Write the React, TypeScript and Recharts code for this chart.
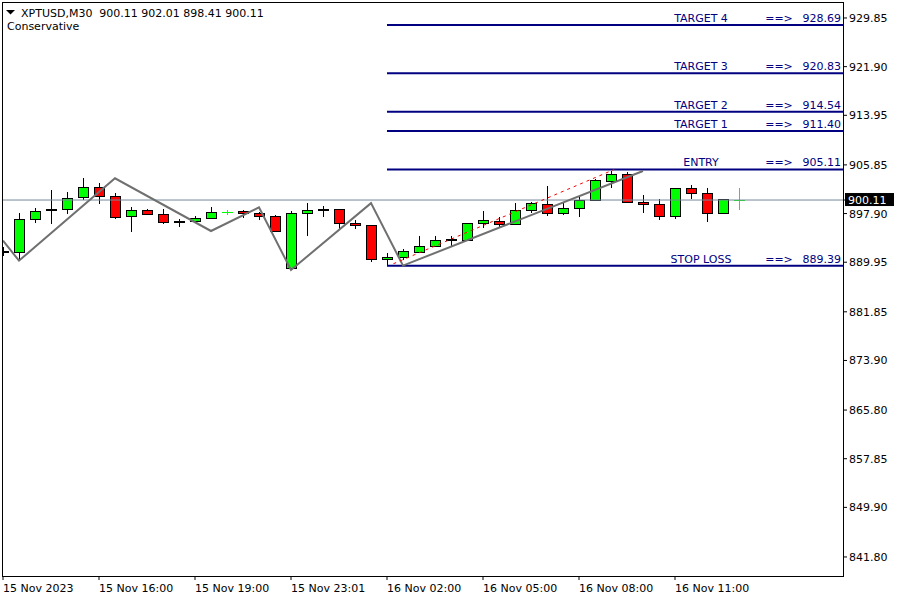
import React from 'react';
import { ComposedChart, XAxis, YAxis, Bar, Line, Scatter } from 'recharts';

// ---- data (XPTUSD, M30) ----
const opens = [891.6, 891.62, 897.0, 898.48, 898.6, 900.56, 902.2, 900.77, 897.45, 898.43, 897.83, 896.47, 896.64, 897.13, 898.11, 898.27, 897.94, 897.45, 888.96, 897.94, 898.47, 898.6, 896.31, 895.98, 890.43, 890.76, 891.57, 892.55, 893.62, 893.53, 896.31, 896.64, 896.2, 898.43, 899.43, 898.05, 898.76, 900.12, 903.27, 904.31, 899.74, 899.41, 897.5, 902.03, 901.21, 897.94, 900.11];
const highs = [892.4, 898.04, 898.76, 901.75, 901.47, 903.66, 902.84, 901.21, 898.92, 898.6, 898.6, 897.01, 897.5, 899.02, 898.48, 898.48, 898.15, 897.67, 898.37, 899.6, 899.14, 898.7, 896.85, 896.0, 891.41, 892.07, 894.24, 894.24, 894.24, 896.31, 898.32, 897.39, 899.6, 899.76, 902.4, 899.6, 900.77, 903.5, 904.9, 904.69, 900.93, 900.23, 902.1, 902.57, 902.03, 900.23, 902.01];
const lows = [890.9, 890.2, 896.41, 896.15, 897.78, 900.12, 899.41, 896.97, 894.94, 897.61, 896.2, 895.65, 896.55, 896.97, 897.67, 897.13, 896.85, 894.89, 888.68, 894.29, 897.39, 895.33, 895.43, 889.99, 889.5, 890.32, 891.5, 892.39, 892.6, 893.42, 895.49, 895.76, 896.2, 897.94, 897.5, 897.67, 897.39, 899.9, 902.03, 899.6, 897.94, 896.85, 896.97, 900.23, 896.57, 897.78, 898.41];
const closes = [891.65, 897.0, 898.27, 898.52, 900.39, 902.2, 900.77, 897.29, 898.43, 897.78, 896.47, 896.44, 897.13, 898.11, 898.11, 897.94, 897.5, 895.0, 897.94, 898.43, 898.5, 896.31, 895.98, 890.43, 890.76, 891.74, 892.55, 893.53, 893.66, 896.31, 896.8, 896.15, 898.43, 899.6, 897.94, 898.81, 900.12, 903.38, 904.31, 899.74, 899.41, 897.5, 902.03, 901.21, 897.94, 900.23, 900.11];

const zigzagIdx = [0, 1, 7, 13, 16, 18, 23, 25, 40];
const zigzagVal = [893.47, 890.2, 903.66, 895.05, 898.92, 888.68, 899.6, 889.4, 904.85];

const signalIdx = [24.4, 38.2];
const signalVal = [889.7, 905.1];

const levelNames = ['TARGET 4', 'TARGET 3', 'TARGET 2', 'TARGET 1', 'ENTRY', 'STOP LOSS'];
const levelValues = [928.69, 920.83, 914.54, 911.4, 905.11, 889.39];
const levelStartIdx = 24;

const lastPrice = 900.11;
const priceTicks = [929.85, 921.9, 913.95, 905.85, 897.9, 889.95, 881.85, 873.9, 865.8, 857.85, 849.9, 841.8];
const timeTickIdx = [0, 6, 12, 18, 24, 30, 36, 42];
const timeTickLabels = ['15 Nov 2023', '15 Nov 16:00', '15 Nov 19:00', '15 Nov 23:01', '16 Nov 02:00', '16 Nov 05:00', '16 Nov 08:00', '16 Nov 11:00'];

const headerText = 'XPTUSD,M30  900.11 902.01 898.41 900.11';
const indicatorName = 'Conservative';

const X_MIN = -0.0625;
const X_MAX = 52.5;
const Y_MIN = 838.69;
const Y_MAX = 932.46;

const FONT = '"DejaVu Sans", Verdana, sans-serif';
const NAVY = '#000080';

const data = opens.map((o, i) => {
  const zi = zigzagIdx.indexOf(i);
  return {
    i,
    o,
    h: highs[i],
    l: lows[i],
    c: closes[i],
    range: [lows[i], highs[i]],
    zz: zi >= 0 ? zigzagVal[zi] : null,
  };
});

const priceLineData = [{ i: X_MIN, v: lastPrice }, { i: X_MAX, v: lastPrice }];
const signalData = signalIdx.map((i, k) => ({ i, v: signalVal[k] }));
const levelLineData = levelValues.map((v) => [{ i: levelStartIdx, v }, { i: X_MAX, v }]);
const levelLabelData = levelValues.map((v, k) => ({ i: X_MAX, v, name: levelNames[k] }));

const Candle = (props: any) => {
  const { x, y, width, height, payload } = props;
  if (!payload) return null;
  const { o, h, l, c } = payload;
  const top = Math.min(y, y + height);
  const bot = Math.max(y, y + height);
  const k = (bot - top) / (h - l);
  const py = (v: number) => top + (h - v) * k;
  const col = Math.round(x + width / 2);
  const cx = col + 0.5;
  const yo = py(o);
  const yc = py(c);
  if (o === c) {
    const ym = Math.round(yo) + 0.5;
    return (
      <g shapeRendering="crispEdges">
        <line x1={cx} x2={cx} y1={Math.round(top)} y2={Math.round(bot)} stroke="#00ff00" strokeWidth={1} />
        <line x1={col - 5} x2={col + 6} y1={ym} y2={ym} stroke="#00ff00" strokeWidth={1} />
      </g>
    );
  }
  const bt = Math.min(yo, yc);
  const bb = Math.max(yo, yc);
  const wick = (
    <line x1={cx} x2={cx} y1={Math.round(top)} y2={Math.round(bot)} stroke="#000" strokeWidth={1} />
  );
  if (bb - bt < 1.5) {
    return (
      <g shapeRendering="crispEdges">
        {wick}
        <rect x={col - 5} y={Math.round(bt) - 1} width={11} height={2} fill="#000" />
      </g>
    );
  }
  const fill = c > o ? '#00ff00' : '#ff0000';
  const rt = Math.round(bt) + 0.5;
  const rb = Math.round(bb) + 0.5;
  return (
    <g shapeRendering="crispEdges">
      {wick}
      <rect x={col - 4.5} y={rt} width={10} height={rb - rt} fill={fill} stroke="#000" strokeWidth={1} />
    </g>
  );
};

const LevelLabel = (props: any) => {
  const { cx, cy, payload } = props;
  if (cx == null || cy == null) return null;
  const base = cy - 3;
  return (
    <g fontFamily={FONT} fontSize={11} fill={NAVY}>
      <text x={cx - 142} y={base} textAnchor="middle">{payload.name}</text>
      <text x={cx - 64} y={base} textAnchor="middle">==&gt;</text>
      <text x={cx - 2} y={base} textAnchor="end">{payload.v.toFixed(2)}</text>
    </g>
  );
};

const PriceTick = (props: any) => {
  const { x, y, payload } = props;
  const v = payload.value;
  if (Math.abs(v - lastPrice) < 1e-6) {
    return (
      <g>
        <rect x={x - 4} y={y - 7} width={49} height={13} fill="#000" />
        <text x={x - 1} y={y + 4} fill="#fff" fontFamily={FONT} fontSize={11}>{v.toFixed(2)}</text>
      </g>
    );
  }
  return (
    <text x={x} y={y + 4} fill="#000" fontFamily={FONT} fontSize={11}>{v.toFixed(2)}</text>
  );
};

const TimeTick = (props: any) => {
  const { x, y, payload } = props;
  const k = timeTickIdx.indexOf(payload.value);
  return (
    <text x={x} y={y + 10} fill="#000" fontFamily={FONT} fontSize={11} textAnchor="start">
      {k >= 0 ? timeTickLabels[k] : ''}
    </text>
  );
};

export default function App() {
  return (
    <div style={{ position: 'absolute', left: 0, top: 0, width: 900, height: 600, background: '#fff' }}>
      <ComposedChart
        width={900}
        height={600}
        data={data}
        margin={{ top: 2, left: 2, right: 0, bottom: 0 }}
      >
        <XAxis
          dataKey="i"
          type="number"
          domain={[X_MIN, X_MAX]}
          allowDataOverflow
          ticks={timeTickIdx}
          interval={0}
          height={24}
          axisLine={false}
          tickLine={{ stroke: '#000' }}
          tickSize={4}
          tick={<TimeTick />}
        />
        <YAxis
          orientation="right"
          type="number"
          domain={[Y_MIN, Y_MAX]}
          allowDataOverflow
          ticks={[...priceTicks, lastPrice]}
          interval={0}
          width={57}
          axisLine={false}
          tickLine={{ stroke: '#000' }}
          tickSize={4}
          tickMargin={2}
          tick={<PriceTick />}
        />
        <Line
          data={priceLineData}
          dataKey="v"
          stroke="#778899"
          strokeWidth={1}
          dot={false}
          activeDot={false}
          isAnimationActive={false}
        />
        <Bar dataKey="range" barSize={11} shape={<Candle />} isAnimationActive={false} />
        {levelLineData.map((d, k) => (
          <Line
            key={'lvl' + k}
            data={d}
            dataKey="v"
            stroke={NAVY}
            strokeWidth={2}
            dot={false}
            activeDot={false}
            isAnimationActive={false}
          />
        ))}
        <Line
          dataKey="zz"
          connectNulls
          stroke="#707070"
          strokeWidth={2}
          dot={false}
          activeDot={false}
          isAnimationActive={false}
        />
        <Line
          data={signalData}
          dataKey="v"
          stroke="#ff0000"
          strokeWidth={1}
          strokeDasharray="3 4"
          dot={false}
          activeDot={false}
          isAnimationActive={false}
        />
        <Scatter data={levelLabelData} dataKey="v" shape={<LevelLabel />} isAnimationActive={false} />
      </ComposedChart>
      <div
        style={{
          position: 'absolute',
          left: 2,
          top: 2,
          width: 842,
          height: 575,
          border: '1px solid #000',
          boxSizing: 'border-box',
          pointerEvents: 'none',
        }}
      />
      <svg width={300} height={40} style={{ position: 'absolute', left: 0, top: 0, pointerEvents: 'none' }}>
        <polygon points="6,10 15,10 10.5,14.5" fill="#000" />
        <text x={21} y={17} fontFamily={FONT} fontSize={11} fill="#000" style={{ whiteSpace: 'pre' }}>
          {headerText}
        </text>
        <text x={7} y={30} fontFamily={FONT} fontSize={11} fill="#000">
          {indicatorName}
        </text>
      </svg>
    </div>
  );
}
